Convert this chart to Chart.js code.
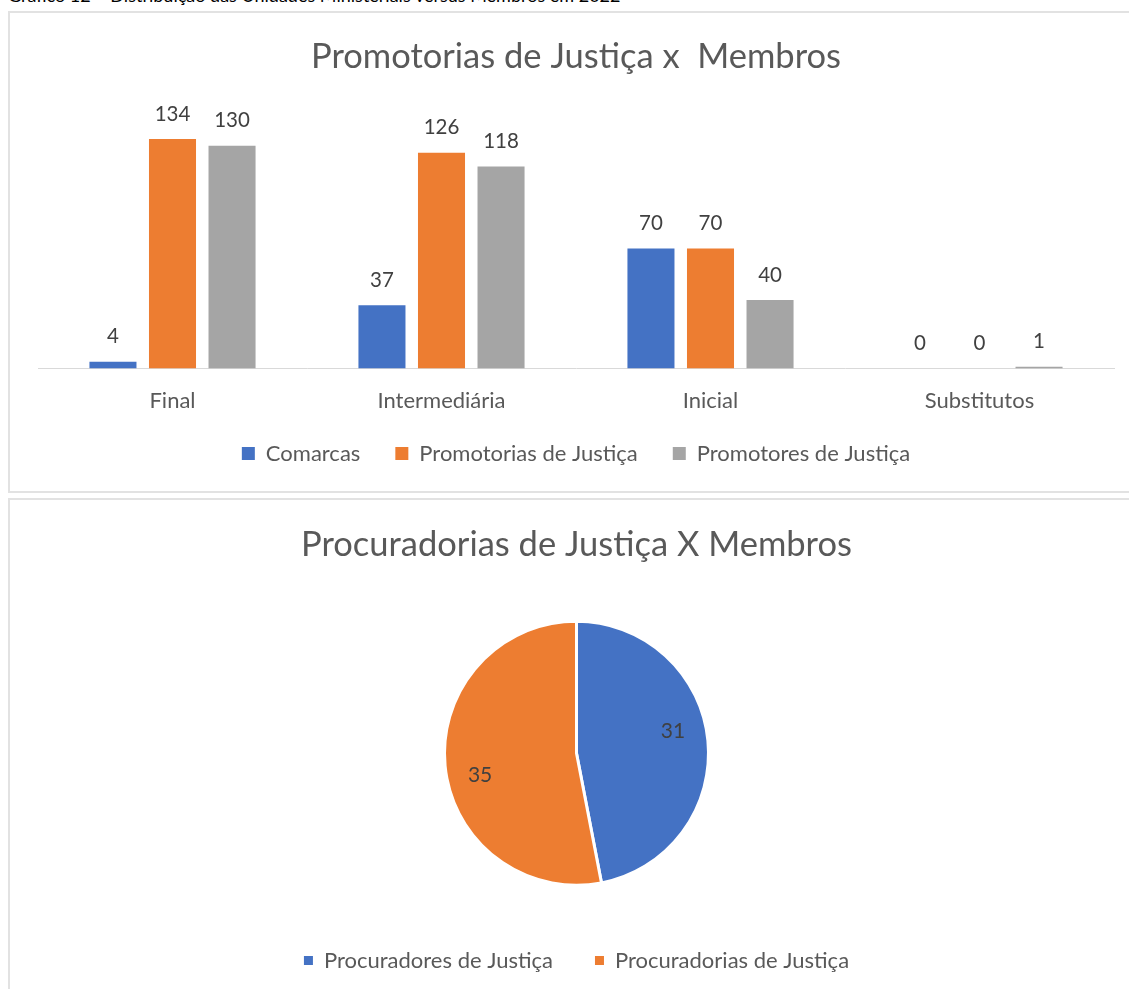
<!DOCTYPE html>
<html>
<head>
<meta charset="utf-8">
<script src="https://cdn.jsdelivr.net/npm/chart.js@4.4.0/dist/chart.umd.min.js"></script>
<style>
  body { margin: 0; background: #fff; width: 1129px; height: 989px; overflow: hidden; position: relative; font-family: Lato, sans-serif; }
  .caption { position: absolute; left: 8px; top: -16px; font-size: 18px; color: #000; white-space: nowrap; }
  .box { position: absolute; left: 8px; width: 1140px; border: 2px solid #e2e2e2; box-sizing: border-box; }
  #topBox { top: 11px; height: 482px; }
  #bottomBox { top: 498px; height: 520px; }
  canvas { position: absolute; left: 0; top: 0; }
</style>
</head>
<body>
<div class="caption">Gráfico 12 – Distribuição das Unidades Ministeriais versus Membros em 2022</div>
<div class="box" id="topBox"><canvas id="barChart" width="1119" height="478"></canvas></div>
<div class="box" id="bottomBox"><canvas id="pieChart" width="1119" height="491"></canvas></div>
<script>
// --- Data ---
const barCategories = ['Final', 'Intermediária', 'Inicial', 'Substitutos'];
const comarcas = [4, 37, 70, 0];
const promotorias = [134, 126, 70, 0];
const promotores = [130, 118, 40, 1];

const pieLabels = ['Procuradores de Justiça', 'Procuradorias de Justiça'];
const pieValues = [31, 35];

const BLUE = '#4472C4';
const ORANGE = '#ED7D31';
const GRAY = '#A5A5A5';
const TEXT = '#595959';

// value labels drawn above bars / inside slices (best-fit style, slightly rotated)
const valueLabels = {
    id: 'valueLabels',
    afterDatasetsDraw(chart) {
        const ctx = chart.ctx;
        const isBar = chart.config.type === 'bar';
        ctx.save();
        ctx.fillStyle = '#404040';
        ctx.font = (isBar ? '20.5px' : '21px') + ' Lato, sans-serif';
        ctx.textAlign = 'center';
        ctx.textBaseline = 'middle';
        chart.data.datasets.forEach((ds, i) => {
            const meta = chart.getDatasetMeta(i);
            meta.data.forEach((el, j) => {
                if (isBar) {
                    ctx.fillText(ds.data[j], el.x, el.y - 25);
                } else {
                    const mid = (el.startAngle + el.endAngle) / 2 - 0.133;
                    const r = el.outerRadius * 0.75;
                    ctx.fillText(ds.data[j], el.x + Math.cos(mid) * r, el.y + Math.sin(mid) * r);
                }
            });
        });
        ctx.restore();
    }
};

// keep the x labels from being clipped by the shortened axis box
const unclipX = {
    id: 'unclipX',
    afterLayout(chart) {
        if (chart.scales.x) chart.scales.x.bottom = chart.scales.x.top + 80;
    }
};

Chart.defaults.font.family = 'Lato, sans-serif';
Chart.defaults.color = TEXT;

// --- Bar chart ---
new Chart(document.getElementById('barChart'), {
    type: 'bar',
    data: {
        labels: barCategories,
        datasets: [
            { label: 'Comarcas', data: comarcas, backgroundColor: BLUE },
            { label: 'Promotorias de Justiça', data: promotorias, backgroundColor: ORANGE },
            { label: 'Promotores de Justiça', data: promotores, backgroundColor: GRAY }
        ]
    },
    options: {
        responsive: false,
        animation: false,
        categoryPercentage: 0.664,
        barPercentage: 0.79,
        layout: { padding: { left: 28, right: 15, bottom: 16.5 } },
        plugins: {
            title: {
                display: true,
                text: 'Promotorias de Justiça x  Membros',
                font: { size: 34.5, weight: 'normal' },
                color: TEXT,
                padding: { top: 23.3, bottom: 33.9 }
            },
            legend: {
                position: 'bottom',
                labels: { boxWidth: 13, boxHeight: 13, padding: 35, font: { size: 22 }, color: TEXT }
            },
            tooltip: { enabled: false }
        },
        scales: {
            x: {
                grid: { display: false, drawTicks: false },
                border: { display: true, color: '#d9d9d9', width: 1 },
                ticks: { padding: 19, font: { size: 22 }, color: TEXT },
                afterFit(scale) { scale.height = 39; }
            },
            y: { display: false, min: 0, max: 150 }
        }
    },
    plugins: [valueLabels, unclipX]
});

// --- Pie chart ---
new Chart(document.getElementById('pieChart'), {
    type: 'pie',
    data: {
        labels: pieLabels,
        datasets: [{ data: pieValues, backgroundColor: [BLUE, ORANGE], borderColor: '#fff', borderWidth: 3 }]
    },
    options: {
        responsive: false,
        animation: false,
        radius: 132,
        layout: { padding: { left: 14, bottom: 9.5 } },
        plugins: {
            title: {
                display: true,
                text: 'Procuradorias de Justiça X Membros',
                font: { size: 34.5, weight: 'normal' },
                color: TEXT,
                padding: { top: 24.3, bottom: 33.3 }
            },
            legend: {
                position: 'bottom',
                labels: {
                    boxWidth: 9, boxHeight: 9, padding: 42, font: { size: 22 }, color: TEXT,
                    generateLabels(chart) {
                        return Chart.controllers.pie.overrides.plugins.legend.labels.generateLabels(chart)
                            .map(l => Object.assign(l, { lineWidth: 0 }));
                    }
                }
            },
            tooltip: { enabled: false }
        }
    },
    plugins: [valueLabels]
});
</script>
</body>
</html>
